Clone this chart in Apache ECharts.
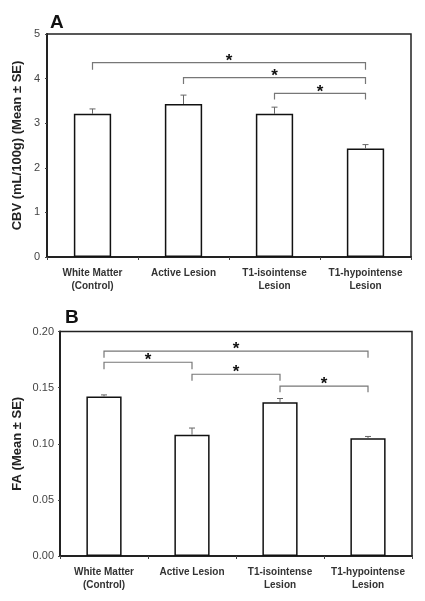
<!DOCTYPE html>
<html>
<head>
<meta charset="utf-8">
<script src="https://cdn.jsdelivr.net/npm/echarts@6/dist/echarts.min.js"></script>
<style>
html,body{margin:0;padding:0;background:#fff;}
#c{width:425px;height:601px;}
</style>
</head>
<body>
<div id="c"></div>
<script>
var categories = ['White Matter\n(Control)', 'Active Lesion', 'T1-isointense\nLesion', 'T1-hypointense\nLesion'];
var cbvMean = [3.21, 3.43, 3.21, 2.43];
var cbvSE = [0.11, 0.20, 0.15, 0.09];
var faMean = [0.142, 0.108, 0.137, 0.105];
var faSE = [0.0015, 0.006, 0.0033, 0.0015];
var cbvTicks = [0, 1, 2, 3, 4, 5];
var faTicks = ['0.00', '0.05', '0.10', '0.15', '0.20'];
// [fromCategory, toCategory, bracketValue, legEndValue]
var cbvBrackets = [[0, 3, 4.36, 4.20], [1, 3, 4.02, 3.88], [2, 3, 3.67, 3.53]];
var faBrackets = [[0, 3, 0.1826, 0.1767], [0, 1, 0.1726, 0.1663], [1, 2, 0.1619, 0.1562], [2, 3, 0.1514, 0.1458]];

var FONT = 'Arial, "Liberation Sans", sans-serif';
var chart = echarts.init(document.getElementById('c'), null, {renderer: 'canvas'});

function errData(mean, se) {
  return mean.map(function (m, i) { return [i, m, m + se[i]]; });
}
function errRender(params, api) {
  var p0 = api.coord([api.value(0), api.value(1)]);
  var p1 = api.coord([api.value(0), api.value(2)]);
  return {
    type: 'group',
    children: [
      {type: 'line', shape: {x1: p0[0], y1: p0[1], x2: p1[0], y2: p1[1]}, style: {stroke: '#666', lineWidth: 1}},
      {type: 'line', shape: {x1: p1[0] - 3, y1: p1[1], x2: p1[0] + 3, y2: p1[1]}, style: {stroke: '#666', lineWidth: 1}}
    ]
  };
}
function brRender(params, api) {
  var a = api.coord([api.value(0), api.value(2)]);
  var b = api.coord([api.value(1), api.value(2)]);
  var la = api.coord([api.value(0), api.value(3)]);
  var lb = api.coord([api.value(1), api.value(3)]);
  return {
    type: 'group',
    children: [
      {type: 'polyline', shape: {points: [[la[0], la[1]], [a[0], a[1]], [b[0], b[1]], [lb[0], lb[1]]]},
        style: {stroke: '#777', lineWidth: 1.2, fill: null}},
      {type: 'text', x: (a[0] + b[0]) / 2, y: a[1] + 7,
        style: {text: '*', fill: '#111', font: 'bold 17px ' + FONT, align: 'center', verticalAlign: 'bottom'}}
    ]
  };
}

var xAxisCommon = {
  type: 'category',
  data: categories,
  axisLine: {lineStyle: {color: '#222', width: 2}},
  axisTick: {show: true, length: 3, lineStyle: {color: '#444', width: 1}},
  axisLabel: {interval: 0, color: '#333', fontFamily: FONT, fontWeight: 'bold', fontSize: 10, lineHeight: 13.5, margin: 9}
};
var yAxisCommon = {
  type: 'value',
  splitLine: {show: false},
  axisLine: {show: true, lineStyle: {color: '#222', width: 2}},
  axisTick: {show: true, length: 2, lineStyle: {color: '#444'}},
  nameLocation: 'middle',
  nameMoveOverlap: false,
  nameTextStyle: {fontFamily: FONT, fontWeight: 'bold', fontSize: 13, color: '#222'}
};

var option = {
  backgroundColor: '#fff',
  animation: false,
  title: [
    {text: 'A', left: 50, top: 13, padding: 0, textStyle: {fontFamily: FONT, fontWeight: 'bold', fontSize: 19, color: '#111'}},
    {text: 'B', left: 65, top: 308, padding: 0, textStyle: {fontFamily: FONT, fontWeight: 'bold', fontSize: 19, color: '#111'}}
  ],
  grid: [
    {left: 47, right: 14, top: 34, height: 223, show: true, borderColor: '#222', borderWidth: 1.5, backgroundColor: 'transparent'},
    {left: 60, right: 13, top: 331.5, height: 224.5, show: true, borderColor: '#222', borderWidth: 1.5, backgroundColor: 'transparent'}
  ],
  xAxis: [
    Object.assign({gridIndex: 0}, xAxisCommon),
    Object.assign({gridIndex: 1}, xAxisCommon)
  ],
  yAxis: [
    Object.assign({}, yAxisCommon, {gridIndex: 0, min: 0, max: 5, interval: 1,
      name: 'CBV (mL/100g) (Mean \u00b1 SE)', nameGap: 23,
      axisLabel: {color: '#444', fontFamily: FONT, fontSize: 11, margin: 7,
        formatter: function (v) { return String(cbvTicks[Math.round(v)]); }}}),
    Object.assign({}, yAxisCommon, {gridIndex: 1, min: 0, max: 0.2, interval: 0.05,
      name: 'FA (Mean \u00b1 SE)', nameGap: 36,
      axisLabel: {color: '#444', fontFamily: FONT, fontSize: 11, margin: 6,
        formatter: function (v) { return faTicks[Math.round(v / 0.05)]; }}})
  ],
  series: [
    {type: 'bar', xAxisIndex: 0, yAxisIndex: 0, data: cbvMean, barWidth: '41%',
      itemStyle: {color: '#fff', borderColor: '#111', borderWidth: 1.5}},
    {type: 'custom', xAxisIndex: 0, yAxisIndex: 0, data: errData(cbvMean, cbvSE), renderItem: errRender, z: 3},
    {type: 'custom', xAxisIndex: 0, yAxisIndex: 0, data: cbvBrackets, renderItem: brRender, z: 4},
    {type: 'bar', xAxisIndex: 1, yAxisIndex: 1, data: faMean, barWidth: '40%',
      itemStyle: {color: '#fff', borderColor: '#111', borderWidth: 1.5}},
    {type: 'custom', xAxisIndex: 1, yAxisIndex: 1, data: errData(faMean, faSE), renderItem: errRender, z: 3},
    {type: 'custom', xAxisIndex: 1, yAxisIndex: 1, data: faBrackets, renderItem: brRender, z: 4}
  ]
};
chart.setOption(option);
</script>
</body>
</html>
